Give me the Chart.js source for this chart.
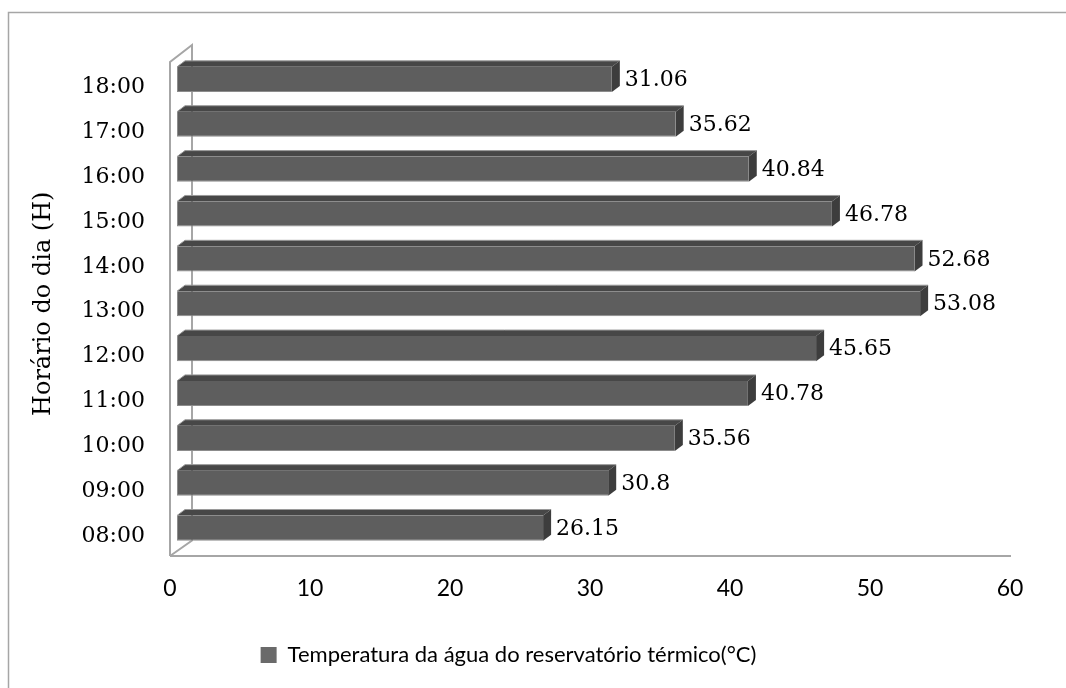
<!DOCTYPE html>
<html>
<head>
<meta charset="utf-8">
<script src="https://cdn.jsdelivr.net/npm/chart.js@4.4.1/dist/chart.umd.min.js"></script>
<style>
  html, body { margin: 0; padding: 0; background: #ffffff; }
  #wrap { width: 1066px; height: 688px; position: relative; }
</style>
</head>
<body>
<div id="wrap"><canvas id="c" width="1066" height="688"></canvas></div>
<script>
const categories = ["08:00", "09:00", "10:00", "11:00", "12:00", "13:00", "14:00", "15:00", "16:00", "17:00", "18:00"];
const temperatures = [26.15, 30.8, 35.56, 40.78, 45.65, 53.08, 52.68, 46.78, 40.84, 35.62, 31.06];
const seriesLabel = "Temperatura da água do reservatório térmico(°C)";
const axisTitle = "Horário do dia (H)";
const xTicks = [0, 10, 20, 30, 40, 50, 60];

const SERIF = "'DejaVu Serif', 'Liberation Serif', serif";
const SANS = "Lato, 'Liberation Sans', sans-serif";

const DX = 8, DY = 6;

const framePlugin = {
  id: 'frame',
  beforeDraw(chart) {
    const ctx = chart.ctx;
    ctx.save();
    ctx.strokeStyle = '#a6a6a6';
    ctx.lineWidth = 1.5;
    ctx.beginPath();
    ctx.moveTo(8.5, 688);
    ctx.lineTo(8.5, 12.5);
    ctx.lineTo(1066, 12.5);
    ctx.stroke();
    ctx.restore();
  },
  beforeDatasetsDraw(chart) {
    const ctx = chart.ctx;
    const a = chart.chartArea;
    const xs = chart.scales.x;
    const fx = a.left - 7, bx = a.left + 15;
    const ftop = a.top + 5, btop = a.top - 12;
    const floorY = a.bottom + 5.5, bbot = a.bottom - 10;
    const xEnd = xs.getPixelForValue(xTicks[xTicks.length - 1]) - 6;
    ctx.save();
    ctx.strokeStyle = '#a6a6a6';
    ctx.lineWidth = 2;
    ctx.beginPath();
    ctx.moveTo(fx, floorY);
    ctx.lineTo(fx, ftop);
    ctx.lineTo(bx, btop);
    ctx.lineTo(bx, bbot);
    ctx.lineTo(fx, floorY);
    ctx.moveTo(fx, floorY);
    ctx.lineTo(xEnd, floorY);
    ctx.stroke();
    ctx.restore();
  },
  afterDatasetsDraw(chart) {
    const ctx = chart.ctx;
    const meta = chart.getDatasetMeta(0);
    const data = chart.data.datasets[0].data;
    ctx.save();
    meta.data.forEach((bar, i) => {
      const p = bar.getProps(['x', 'y', 'base', 'height'], true);
      const top = p.y - p.height / 2, bot = p.y + p.height / 2;
      const x0 = p.base, x1 = p.x;
      ctx.fillStyle = '#474747';
      ctx.beginPath();
      ctx.moveTo(x0, top);
      ctx.lineTo(x0 + DX, top - DY);
      ctx.lineTo(x1 + DX, top - DY);
      ctx.lineTo(x1, top);
      ctx.closePath();
      ctx.fill();
      ctx.strokeStyle = '#9a9a9a';
      ctx.lineWidth = 1;
      ctx.beginPath();
      ctx.moveTo(x0, top);
      ctx.lineTo(x0 + DX, top - DY);
      ctx.lineTo(x1 + DX, top - DY);
      ctx.stroke();
      ctx.fillStyle = '#3d3d3d';
      ctx.beginPath();
      ctx.moveTo(x1, top);
      ctx.lineTo(x1 + DX, top - DY);
      ctx.lineTo(x1 + DX, bot - DY);
      ctx.lineTo(x1, bot);
      ctx.closePath();
      ctx.fill();
      ctx.fillStyle = '#000000';
      ctx.font = "22px " + SERIF;
      ctx.textAlign = 'left';
      ctx.textBaseline = 'middle';
      ctx.fillText(String(data[i]), x1 + DX + 5, p.y + 1);
    });
    ctx.restore();
  }
};

new Chart(document.getElementById('c'), {
  type: 'bar',
  data: {
    labels: categories,
    datasets: [{
      label: seriesLabel,
      data: temperatures,
      backgroundColor: '#5e5e5e',
      borderColor: '#8c8c8c',
      borderWidth: { left: 1, bottom: 1, top: 0, right: 0 },
      borderSkipped: false,
      categoryPercentage: 1.0,
      barPercentage: 0.56
    }]
  },
  options: {
    indexAxis: 'y',
    responsive: false,
    animation: false,
    devicePixelRatio: 1,
    layout: { padding: { top: 57, right: 49, bottom: 12, left: 0 } },
    scales: {
      x: {
        min: 0, max: 60,
        grid: { display: false, drawTicks: false },
        border: { display: false },
        afterFit(scale) { scale.height = 83.5; },
        afterBuildTicks(scale) { scale.ticks = xTicks.map(v => ({ value: v })); },
        ticks: {
          stepSize: 10,
          padding: 24,
          labelOffset: -7,
          color: '#000000',
          font: { family: SANS, size: 23 }
        }
      },
      y: {
        reverse: true,
        grid: { display: false, drawTicks: false },
        border: { display: false },
        afterFit(scale) { scale.width = 177; },
        ticks: {
          padding: 32,
          labelOffset: 8,
          color: '#000000',
          font: { family: SERIF, size: 22 }
        },
        title: {
          display: true,
          text: axisTitle,
          color: '#000000',
          font: { family: SERIF, size: 24, weight: 'normal' },
          padding: { top: 29, bottom: 0 }
        }
      }
    },
    plugins: {
      legend: {
        display: true,
        position: 'bottom',
        labels: {
          color: '#000000',
          font: { family: SANS, size: 22 },
          boxWidth: 16,
          boxHeight: 16,
          padding: 10,
          generateLabels(chart) {
            return [{
              text: seriesLabel,
              fillStyle: '#6a6a6a',
              strokeStyle: '#6a6a6a',
              lineWidth: 0,
              datasetIndex: 0
            }];
          }
        }
      },
      tooltip: { enabled: false }
    }
  },
  plugins: [framePlugin]
});
</script>
</body>
</html>
